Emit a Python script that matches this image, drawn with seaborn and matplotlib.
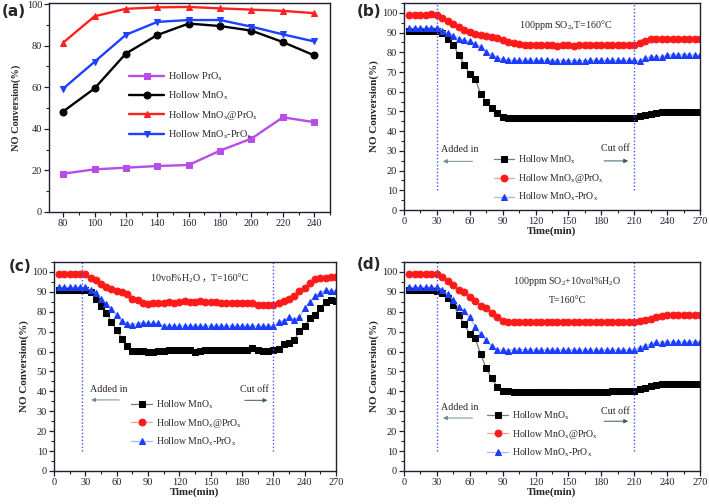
import matplotlib
matplotlib.use("Agg")
import matplotlib.pyplot as plt
from matplotlib.ticker import MultipleLocator
import seaborn as sns

sns.set_style("ticks")
plt.rcParams["font.family"] = ["Liberation Serif", "Noto Sans CJK SC"]
plt.rcParams["mathtext.fontset"] = "custom"
plt.rcParams["mathtext.rm"] = "Liberation Serif"
plt.rcParams["mathtext.it"] = "Liberation Serif:italic"
plt.rcParams["axes.edgecolor"] = "#202030"
plt.rcParams["xtick.color"] = "#202030"
plt.rcParams["ytick.color"] = "#202030"

# ---- panel (a): temperature ----
temp = [80, 100, 120, 140, 160, 180, 200, 220, 240]
a_pr = [18.4, 20.5, 21.3, 22.1, 22.6, 29.5, 35.3, 45.5, 43.2]
a_mn = [48.3, 59.4, 76.2, 85.1, 90.6, 89.4, 87.2, 81.7, 75.3]
a_at = [81.4, 94.1, 97.7, 98.4, 98.6, 97.9, 97.3, 96.7, 95.6]
a_mix = [59.3, 72.2, 85.2, 91.4, 92.3, 92.3, 89.1, 85.4, 82.0]

# ---- panels (b)-(d): time on stream ----
time = [5, 10, 15, 20, 25, 30, 35, 40, 45, 50, 55, 60, 65, 70, 75, 80, 85, 90,
        95, 100, 105, 110, 115, 120, 125, 130, 135, 140, 145, 150, 155, 160,
        165, 170, 175, 180, 185, 190, 195, 200, 205, 210, 215, 220, 225, 230,
        235, 240, 245, 250, 255, 260, 265, 270]

b_mn = [90.7, 90.7, 90.7, 90.7, 90.7, 90.7, 90.0, 87.0, 83.8, 78.6, 73.8, 69.0,
        66.5, 58.7, 54.8, 51.5, 49.2, 47.2, 46.9, 46.7,
        46.7, 46.8, 46.8, 46.8, 46.9, 46.8, 46.7, 46.7, 46.8, 46.7, 46.8, 46.8,
        46.8, 46.8, 46.9, 46.8, 46.7, 46.6, 46.7, 46.8, 46.8, 46.8,
        47.9, 48.1, 48.7, 49.2, 49.5, 49.8, 49.9, 49.8, 49.8, 49.8, 49.8, 49.8]
b_at = [99.0, 99.0, 99.0, 98.8, 99.2, 99.0, 97.5, 95.8, 94.2, 92.6, 91.3, 90.2,
        89.5, 88.8, 88.2, 87.7, 87.3, 86.3, 85.3, 84.6,
        84.0, 83.7, 83.7, 83.5, 83.5, 83.5, 83.6, 83.3, 83.6, 83.9, 83.2, 83.6,
        83.6, 83.5, 83.5, 83.5, 83.5, 83.5, 83.5, 83.5, 83.5, 83.6,
        84.9, 85.8, 86.5, 86.6, 86.6, 86.6, 86.6, 86.6, 86.6, 86.7, 86.7, 86.7]
b_mix = [92.3, 92.3, 92.3, 92.3, 92.5, 92.3, 91.0, 89.8, 88.5, 87.0, 86.0, 85.5,
         84.2, 82.8, 80.3, 78.7, 77.3, 76.5, 76.0, 76.0,
         76.0, 76.0, 76.0, 76.0, 76.0, 76.0, 75.8, 75.8, 75.8, 75.8, 75.8, 75.8,
         75.8, 75.9, 75.9, 75.9, 75.9, 75.9, 75.9, 75.9, 75.9, 75.9,
         75.7, 77.0, 77.8, 77.7, 77.5, 78.6, 78.8, 78.8, 78.8, 78.8, 78.6, 78.5]

c_mn = [90.7, 90.7, 90.7, 90.7, 90.7, 90.7, 90.0, 86.6, 82.8, 79.6, 74.8, 71.0,
        66.5, 62.7, 60.5, 60.5, 60.2, 60.0, 59.9, 60.5,
        60.5, 60.7, 60.7, 60.7, 60.7, 60.7, 60.0, 60.5, 60.6, 60.7, 60.7, 60.8,
        60.8, 60.8, 60.8, 60.8, 60.8, 62.0, 60.6, 60.5, 60.5, 60.7,
        61.2, 63.7, 64.3, 65.8, 70.3, 72.7, 77.0, 78.5, 82.0, 84.8, 86.0, 85.5]
c_at = [99.0, 99.0, 99.0, 98.8, 99.0, 99.0, 97.2, 95.7, 94.0, 92.5, 91.2, 90.3,
        89.8, 88.8, 86.2, 86.0, 84.3, 84.0, 84.5, 84.2,
        84.2, 84.7, 84.2, 84.7, 85.2, 85.0, 85.0, 85.3, 84.7, 85.0, 84.8, 84.5,
        84.5, 84.5, 84.5, 84.5, 84.5, 84.2, 83.5, 83.3, 83.3, 83.5,
        84.3, 85.3, 86.3, 88.0, 90.3, 92.0, 94.3, 96.3, 96.8, 97.2, 97.5, 97.3]
c_mix = [92.3, 92.3, 92.3, 92.3, 92.3, 92.5, 91.0, 89.3, 86.5, 84.0, 81.3, 78.5,
         75.2, 74.0, 73.5, 74.0, 74.5, 74.2, 74.3, 74.2,
         72.8, 72.8, 72.8, 72.8, 72.8, 72.8, 72.8, 72.8, 72.8, 72.8, 72.8, 72.8,
         72.8, 72.8, 72.8, 72.8, 72.8, 72.8, 72.8, 72.8, 72.8, 72.8,
         74.7, 75.6, 77.2, 76.0, 77.2, 81.8, 85.0, 87.8, 89.5, 90.8, 90.5, 90.5]

d_mn = [90.7, 90.7, 90.7, 90.7, 90.7, 90.5, 89.6, 86.7, 83.6, 78.5, 73.6, 68.9,
        66.6, 58.6, 51.6, 46.6, 42.4, 40.3, 40.0, 39.8,
        39.8, 39.7, 39.7, 39.7, 39.7, 39.7, 39.7, 39.8, 39.8, 39.7, 39.7, 39.6,
        39.7, 39.7, 39.8, 39.9, 39.9, 40.0, 40.1, 40.2, 40.3, 40.4,
        41.2, 41.8, 42.6, 43.1, 43.6, 43.8, 43.8, 43.8, 43.8, 43.8, 43.8, 43.8]
d_at = [98.8, 98.8, 98.8, 98.8, 99.0, 98.8, 97.3, 95.2, 93.3, 90.9, 89.7, 87.3,
        85.4, 83.1, 81.7, 79.6, 77.6, 75.1, 74.7, 74.7,
        74.7, 74.7, 74.7, 74.7, 74.7, 74.7, 74.7, 74.7, 74.7, 74.7, 74.7, 74.7,
        74.7, 74.7, 74.7, 74.7, 74.7, 74.7, 74.7, 74.7, 74.7, 74.9,
        75.4, 75.9, 76.5, 77.3, 77.9, 78.6, 78.6, 78.6, 78.6, 78.6, 78.6, 78.6]
d_mix = [92.3, 92.3, 92.3, 92.3, 92.3, 92.3, 91.0, 88.8, 85.7, 82.2, 80.2, 77.3,
         72.5, 68.6, 65.7, 62.8, 60.8, 60.7, 60.5, 61.0,
         61.0, 61.0, 61.0, 60.9, 60.9, 60.9, 60.8, 60.8, 60.8, 60.8, 60.8, 60.8,
         60.8, 60.8, 60.8, 60.8, 60.8, 60.8, 60.8, 60.8, 60.8, 60.9,
         62.0, 63.0, 63.9, 64.6, 64.5, 64.9, 64.9, 64.9, 64.9, 64.9, 64.9, 64.9]

lab_pr = r"Hollow PrO$_\mathrm{x}$"
lab_mn = r"Hollow MnO$_\mathrm{x}$"
lab_at = r"Hollow MnO$_\mathrm{x}$@PrO$_\mathrm{x}$"
lab_mix = r"Hollow MnO$_\mathrm{x}$-PrO$_\mathrm{x}$"

fig = plt.figure(figsize=(7.09, 5.04), dpi=100)
ax_a = fig.add_axes([0.0691, 0.5794, 0.3963, 0.4147])
ax_b = fig.add_axes([0.5698, 0.5833, 0.4175, 0.4107])
ax_c = fig.add_axes([0.0762, 0.0655, 0.3977, 0.4147])
ax_d = fig.add_axes([0.5698, 0.0655, 0.4175, 0.4147])


def style_axis(ax):
    for s in ax.spines.values():
        s.set_linewidth(1.0)
    ax.tick_params(which="major", direction="out", length=3.5, width=0.9,
                   labelsize=7.5, pad=1.5, top=False, right=False)
    ax.tick_params(which="minor", direction="out", length=2.2, width=0.8,
                   top=False, right=False)


# panel (a)
for y, lab, col, mk in [(a_pr, lab_pr, "#b84ce8", "s"), (a_mn, lab_mn, "black", "o"),
                        (a_at, lab_at, "#ff2020", "^"), (a_mix, lab_mix, "#2040ff", "v")]:
    sns.lineplot(x=temp, y=y, ax=ax_a, color=col, marker=mk, markersize=5,
                 markeredgecolor=col, linewidth=1.7, label=lab)
ax_a.set_xlim(71, 250)
ax_a.set_ylim(0, 100.5)
ax_a.xaxis.set_major_locator(MultipleLocator(20))
ax_a.xaxis.set_minor_locator(MultipleLocator(10))
ax_a.yaxis.set_major_locator(MultipleLocator(20))
ax_a.yaxis.set_minor_locator(MultipleLocator(10))
ax_a.set_ylabel("NO Conversion(%)", fontsize=7.5, fontweight="bold", labelpad=4)
ax_a.legend(loc="upper left", bbox_to_anchor=(122, 68), bbox_transform=ax_a.transData,
            frameon=False, fontsize=7.4, handlelength=3.4, handletextpad=0.35,
            labelspacing=0.65, borderpad=0, borderaxespad=0)
style_axis(ax_a)


def time_panel(ax, mn, at, mix, cut_in, texts, arrow_y, text_y, leg_xy):
    sns.lineplot(x=time, y=mn, ax=ax, color="#7a7a7a", linewidth=0.9, marker="s",
                 markersize=4.3, markerfacecolor="black", markeredgecolor="black",
                 label=lab_mn)
    sns.lineplot(x=time, y=at, ax=ax, color="#ff9a9a", linewidth=0.9, marker="o",
                 markersize=4.9, markerfacecolor="#ff1a1a", markeredgecolor="#ff1a1a",
                 label=lab_at)
    sns.lineplot(x=time, y=mix, ax=ax, color="#a8b4ff", linewidth=0.9, marker="^",
                 markersize=4.9, markerfacecolor="#1a3cff", markeredgecolor="#1a3cff",
                 label=lab_mix)
    ax.set_xlim(0, 270)
    ax.set_ylim(0, 105)
    ax.xaxis.set_major_locator(MultipleLocator(30))
    ax.xaxis.set_minor_locator(MultipleLocator(15))
    ax.yaxis.set_major_locator(MultipleLocator(10))
    ax.yaxis.set_minor_locator(MultipleLocator(5))
    ax.set_ylabel("NO Conversion(%)", fontsize=8, fontweight="bold", labelpad=2)
    ax.set_xlabel("Time(min)", fontsize=7.8, fontweight="bold", labelpad=0.5)
    for xv in (cut_in, 210):
        ax.plot([xv, xv], [10, 105], color="#4455ff", linestyle=(0, (1, 1.5)),
                linewidth=1.0)
    ax.text(34, text_y[0], "Added in", fontsize=7.2, ha="left", va="bottom")
    ax.text(206, text_y[1], "Cut off", fontsize=7.2, ha="right", va="bottom")
    ax.annotate("", xy=(33, arrow_y[0]), xytext=(65, arrow_y[0]),
                arrowprops=dict(arrowstyle="-|>", color="#6a8a9a", lw=0.7,
                                mutation_scale=6))
    ax.annotate("", xy=(207, arrow_y[1]), xytext=(180, arrow_y[1]),
                arrowprops=dict(arrowstyle="-|>", color="#3a5a6a", lw=0.7,
                                mutation_scale=6))
    for tx, ty, s, ha in texts:
        ax.text(tx, ty, s, fontsize=7.2, ha=ha, va="center")
    ax.legend(loc="upper left", bbox_to_anchor=leg_xy, bbox_transform=ax.transData,
              frameon=False, fontsize=7.0, handlelength=2.1, handletextpad=0.4,
              labelspacing=0.6, borderpad=0, borderaxespad=0)
    style_axis(ax)


time_panel(ax_b, b_mn, b_at, b_mix, 30,
           [(147, 94, r"100ppm SO$_2$,T=160°C", "center")],
           (24.7, 24.9), (28.5, 29), (82, 28.5))
time_panel(ax_c, c_mn, c_at, c_mix, 27,
           [(141, 96.5, r"10vol%H$_2$O", "right"), (141, 96.5, "，T=160°C", "left")],
           (35.7, 35.5), (38.5, 38.5), (74, 36.5))
time_panel(ax_d, d_mn, d_at, d_mix, 30,
           [(149, 95, r"100ppm SO$_2$+10vol%H$_2$O", "center"),
            (149, 85.7, "T=160°C", "center")],
           (26.6, 25), (29.5, 27.5), (76, 31))

for x, y, s in [(0.002, 0.978, "(a)"), (0.503, 0.978, "(b)"),
                (0.012, 0.472, "(c)"), (0.503, 0.476, "(d)")]:
    fig.text(x, y, s, fontsize=11, fontweight="bold", family="DejaVu Sans",
             ha="left", va="center")

fig.savefig("out.png", dpi=100)
